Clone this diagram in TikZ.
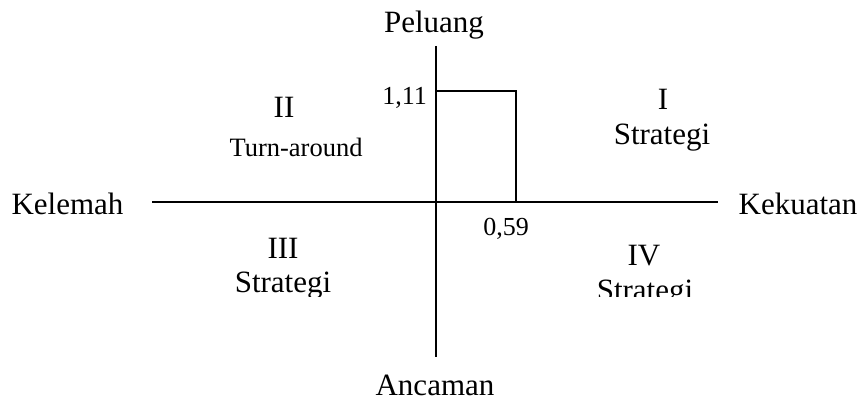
\documentclass[tikz,border=0pt]{standalone}
\usepackage{fontspec}
\setmainfont{Liberation Serif}
\begin{document}
\begin{tikzpicture}[x=1pt,y=-1pt,
  lbl/.style={inner sep=0pt,anchor=base,font=\fontsize{31}{36}\selectfont},
  num/.style={inner sep=0pt,anchor=base,font=\fontsize{26}{30}\selectfont},
  axis/.style={line width=2pt},
  box/.style={line width=2pt}]
\useasboundingbox (0,0) rectangle (862,401);
% axis end points
\coordinate (top) at (435.5,46);
\coordinate (bot) at (435.5,357);
\coordinate (left) at (152,201.5);
\coordinate (right) at (718,201.5);
\coordinate (bl) at (435.5,91);
\coordinate (tr) at (516,91);
\coordinate (br) at (516,201.5);
\draw[axis] (top) -- (bot);
\draw[axis] (left) -- (right);
\draw[box] (bl) -- (tr) -- (br);
% axis labels
\node[lbl] (peluang) at (434,33) {Peluang};
\node[lbl] (ancaman) at (435,395) {Ancaman};
\node[lbl] (kelemah) at (67.5,214) {Kelemah};
\node[lbl] (kekuatan) at (798,214) {Kekuatan};
% values
\node[num,anchor=base east] (v111) at (427,105) {1,11};
\node[num] (v059) at (506,235) {0,59};
% quadrants
\node[lbl] (q1) at (663,110) {I};
\node[lbl] (q1t) at (662,145) {Strategi};
\node[lbl] (q2) at (284,118) {II};
\node[lbl,font=\fontsize{26.5}{30}\selectfont] (q2t) at (296,157) {Turn-around};
\node[lbl] (q3) at (283,258) {III};
\node[lbl] (q4) at (644,265) {IV};
\begin{scope}
\clip (0,0) rectangle (862,296.5);
\node[lbl] (q3t) at (283,292.5) {Strategi};
\node[lbl] (q4t) at (645,300) {Strategi};
\end{scope}
\end{tikzpicture}
\end{document}
